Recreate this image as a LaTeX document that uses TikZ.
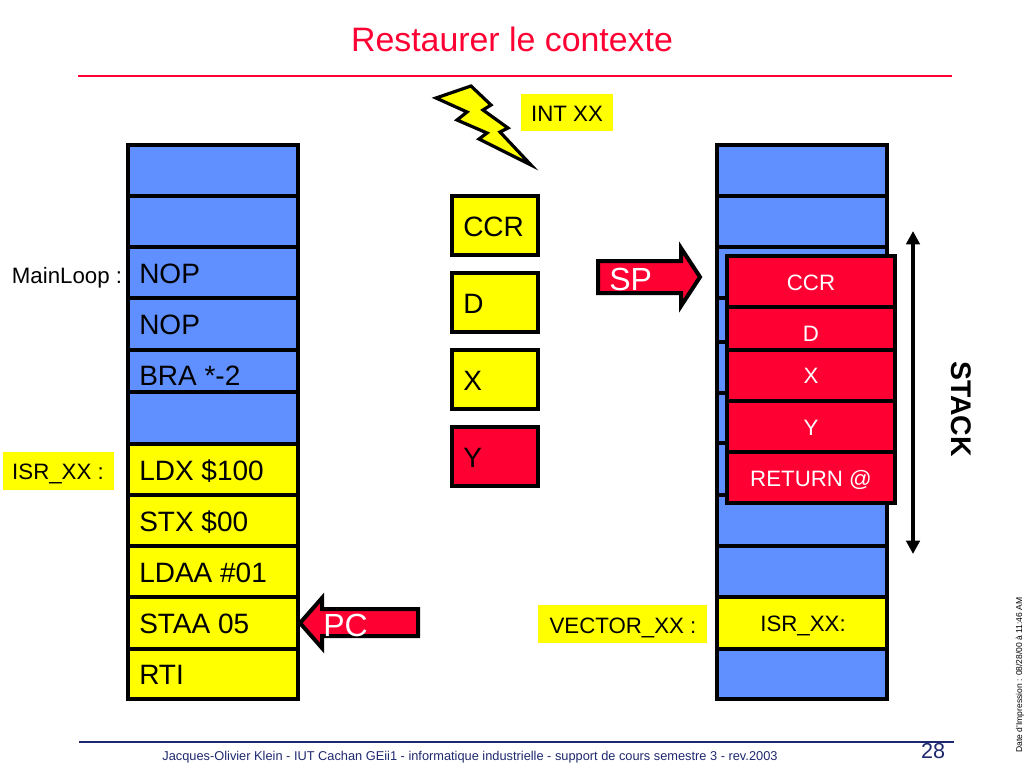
\documentclass[tikz,border=0pt]{standalone}
\usepackage{fontspec}
\usetikzlibrary{arrows.meta}
\setmainfont{Liberation Sans}
\definecolor{memblue}{RGB}{96,144,255}
\definecolor{memyellow}{RGB}{255,255,0}
\definecolor{memred}{RGB}{255,0,51}
\definecolor{footnavy}{RGB}{30,40,110}
\tikzset{
 cell/.style={draw=black,line width=3pt,miter limit=10},
 lbl/.style={inner sep=0pt,anchor=base west,font=\fontsize{21}{21}\selectfont},
 small/.style={inner sep=0pt,anchor=base,font=\fontsize{16.7}{17}\selectfont},
 redtxt/.style={small,text=white},
 tag/.style={fill=memyellow},
 big/.style={inner sep=0pt,anchor=base west,text=white,font=\fontsize{24}{24}\selectfont},
}
\begin{document}
\begin{tikzpicture}[x=0.75pt,y=-0.75pt]
 \useasboundingbox (0,0) rectangle (1024,768);
 % title and rules
 \node[inner sep=0pt,anchor=base,text=memred,font=\fontsize{25.4}{25}\selectfont] (title) at (512,51) {Restaurer le contexte};
 \draw[memred,line width=0.9pt] (78,76)--(952,76);
 \draw[footnavy,line width=0.9pt] (79,742)--(954,742);
 \node[inner sep=0pt,anchor=base,text=footnavy,font=\fontsize{9.6}{10}\selectfont] (foot) at (470,760) {Jacques-Olivier Klein - IUT Cachan GEii1 - informatique industrielle - support de cours semestre 3 - rev.2003};
 \node[inner sep=0pt,anchor=base,text=footnavy,font=\fontsize{16.2}{16}\selectfont] (page) at (933,758) {28};
 \node[inner sep=0pt,anchor=base,rotate=90,font=\fontsize{6.4}{6}\selectfont] (date) at (1022,675) {Date d'Impression : 08/28/00 à 11:46 AM};
 % left memory
 \draw[cell,fill=memblue] (128,145) rectangle (298,196);
 \draw[cell,fill=memblue] (128,196) rectangle (298,247);
 \draw[cell,fill=memblue] (128,247) rectangle (298,298);
 \draw[cell,fill=memblue] (128,298) rectangle (298,350);
 \draw[cell,fill=memblue] (128,350) rectangle (298,392);
 \draw[cell,fill=memblue] (128,392) rectangle (298,444);
 \draw[cell,fill=memyellow] (128,444) rectangle (298,495);
 \draw[cell,fill=memyellow] (128,495) rectangle (298,546);
 \draw[cell,fill=memyellow] (128,546) rectangle (298,597);
 \draw[cell,fill=memyellow] (128,597) rectangle (298,649);
 \draw[cell,fill=memyellow] (128,649) rectangle (298,699);
 \node[lbl] (nopa) at (139,283) {NOP};
 \node[lbl] (nopb) at (139,334) {NOP};
 \node[lbl] (bra) at (139,385) {BRA *-2};
 \node[lbl] (ldx) at (139,480) {LDX \$100};
 \node[lbl] (stx) at (139,531) {STX \$00};
 \node[lbl] (ldaa) at (139,582) {LDAA \#01};
 \node[lbl] (staa) at (139,633) {STAA 05};
 \node[lbl] (rti) at (139,684) {RTI};
 \node[small] (mainloop) at (67,283) {MainLoop :};
 \fill[tag] (3,452) rectangle (114,490);
 \node[small] (isr) at (58,479) {ISR\_XX :};
 % registers
 \draw[cell,fill=memyellow] (452,196) rectangle (538,255);
 \draw[cell,fill=memyellow] (452,273) rectangle (538,332);
 \draw[cell,fill=memyellow] (452,350) rectangle (538,409);
 \draw[cell,fill=memred] (452,427) rectangle (538,486);
 \node[lbl] (ccr) at (463,236) {CCR};
 \node[lbl] (d) at (463,313) {D};
 \node[lbl] (x) at (463,390) {X};
 \node[lbl] (y) at (463,467) {Y};
 % interrupt
 \draw[cell,line width=2.4pt,fill=memyellow] (436,98)--(471,86)--(491,105)--(483,110)--(508,128)--(500,132)--(531,165)--(479,139)--(487,133)--(457,120)--(467,112)--cycle;
 \fill[tag] (521,94) rectangle (613,131);
 \node[small] (int) at (567,121) {INT XX};
 % right memory
 \draw[cell,fill=memblue] (717,145) rectangle (887,196);
 \draw[cell,fill=memblue] (717,196) rectangle (887,247);
 \draw[cell,fill=memblue] (717,247) rectangle (887,298);
 \draw[cell,fill=memblue] (717,298) rectangle (887,342);
 \draw[cell,fill=memblue] (717,342) rectangle (887,393);
 \draw[cell,fill=memblue] (717,393) rectangle (887,443);
 \draw[cell,fill=memblue] (717,443) rectangle (887,495);
 \draw[cell,fill=memblue] (717,495) rectangle (887,546);
 \draw[cell,fill=memblue] (717,546) rectangle (887,597);
 \draw[cell,fill=memyellow] (717,597) rectangle (887,649);
 \draw[cell,fill=memblue] (717,649) rectangle (887,699);
 \node[small] (isrv) at (803,631) {ISR\_XX:};
 \fill[tag] (538,605) rectangle (707,643);
 \node[small] (vector) at (623,633) {VECTOR\_XX :};
 % saved context
 \draw[cell,fill=memred] (727,256) rectangle (895,307);
 \draw[cell,fill=memred] (727,307) rectangle (895,350);
 \draw[cell,fill=memred] (727,350) rectangle (895,401);
 \draw[cell,fill=memred] (727,401) rectangle (895,452);
 \draw[cell,fill=memred] (727,452) rectangle (895,503);
 \node[redtxt] (sccr) at (811,290) {CCR};
 \node[redtxt] (sd) at (811,341) {D};
 \node[redtxt] (sx) at (811,383) {X};
 \node[redtxt] (sy) at (811,435) {Y};
 \node[redtxt] (sret) at (811,486) {RETURN @};
 % pointers
 \draw[cell,fill=memred] (598,261)--(681,261)--(681,248)--(700,277)--(681,306)--(681,293)--(598,293)--cycle;
 \node[big] (sp) at (609,290) {SP};
 \draw[cell,fill=memred] (418,609)--(322,609)--(322,598)--(300,623)--(322,648)--(322,636)--(418,636)--cycle;
 \node[big] (pc) at (323,636) {PC};
 % stack extent
 \coordinate (stacktop) at (913,231);
 \coordinate (stackbot) at (913,554);
 \draw[line width=3pt,{Triangle[length=10pt,width=10pt]}-{Triangle[length=10pt,width=10pt]}] (stacktop)--(stackbot);
 \node[inner sep=0pt,anchor=base,rotate=-90,font=\bfseries\fontsize{21.3}{21}\selectfont] (stack) at (951,409) {STACK};
\end{tikzpicture}
\end{document}
